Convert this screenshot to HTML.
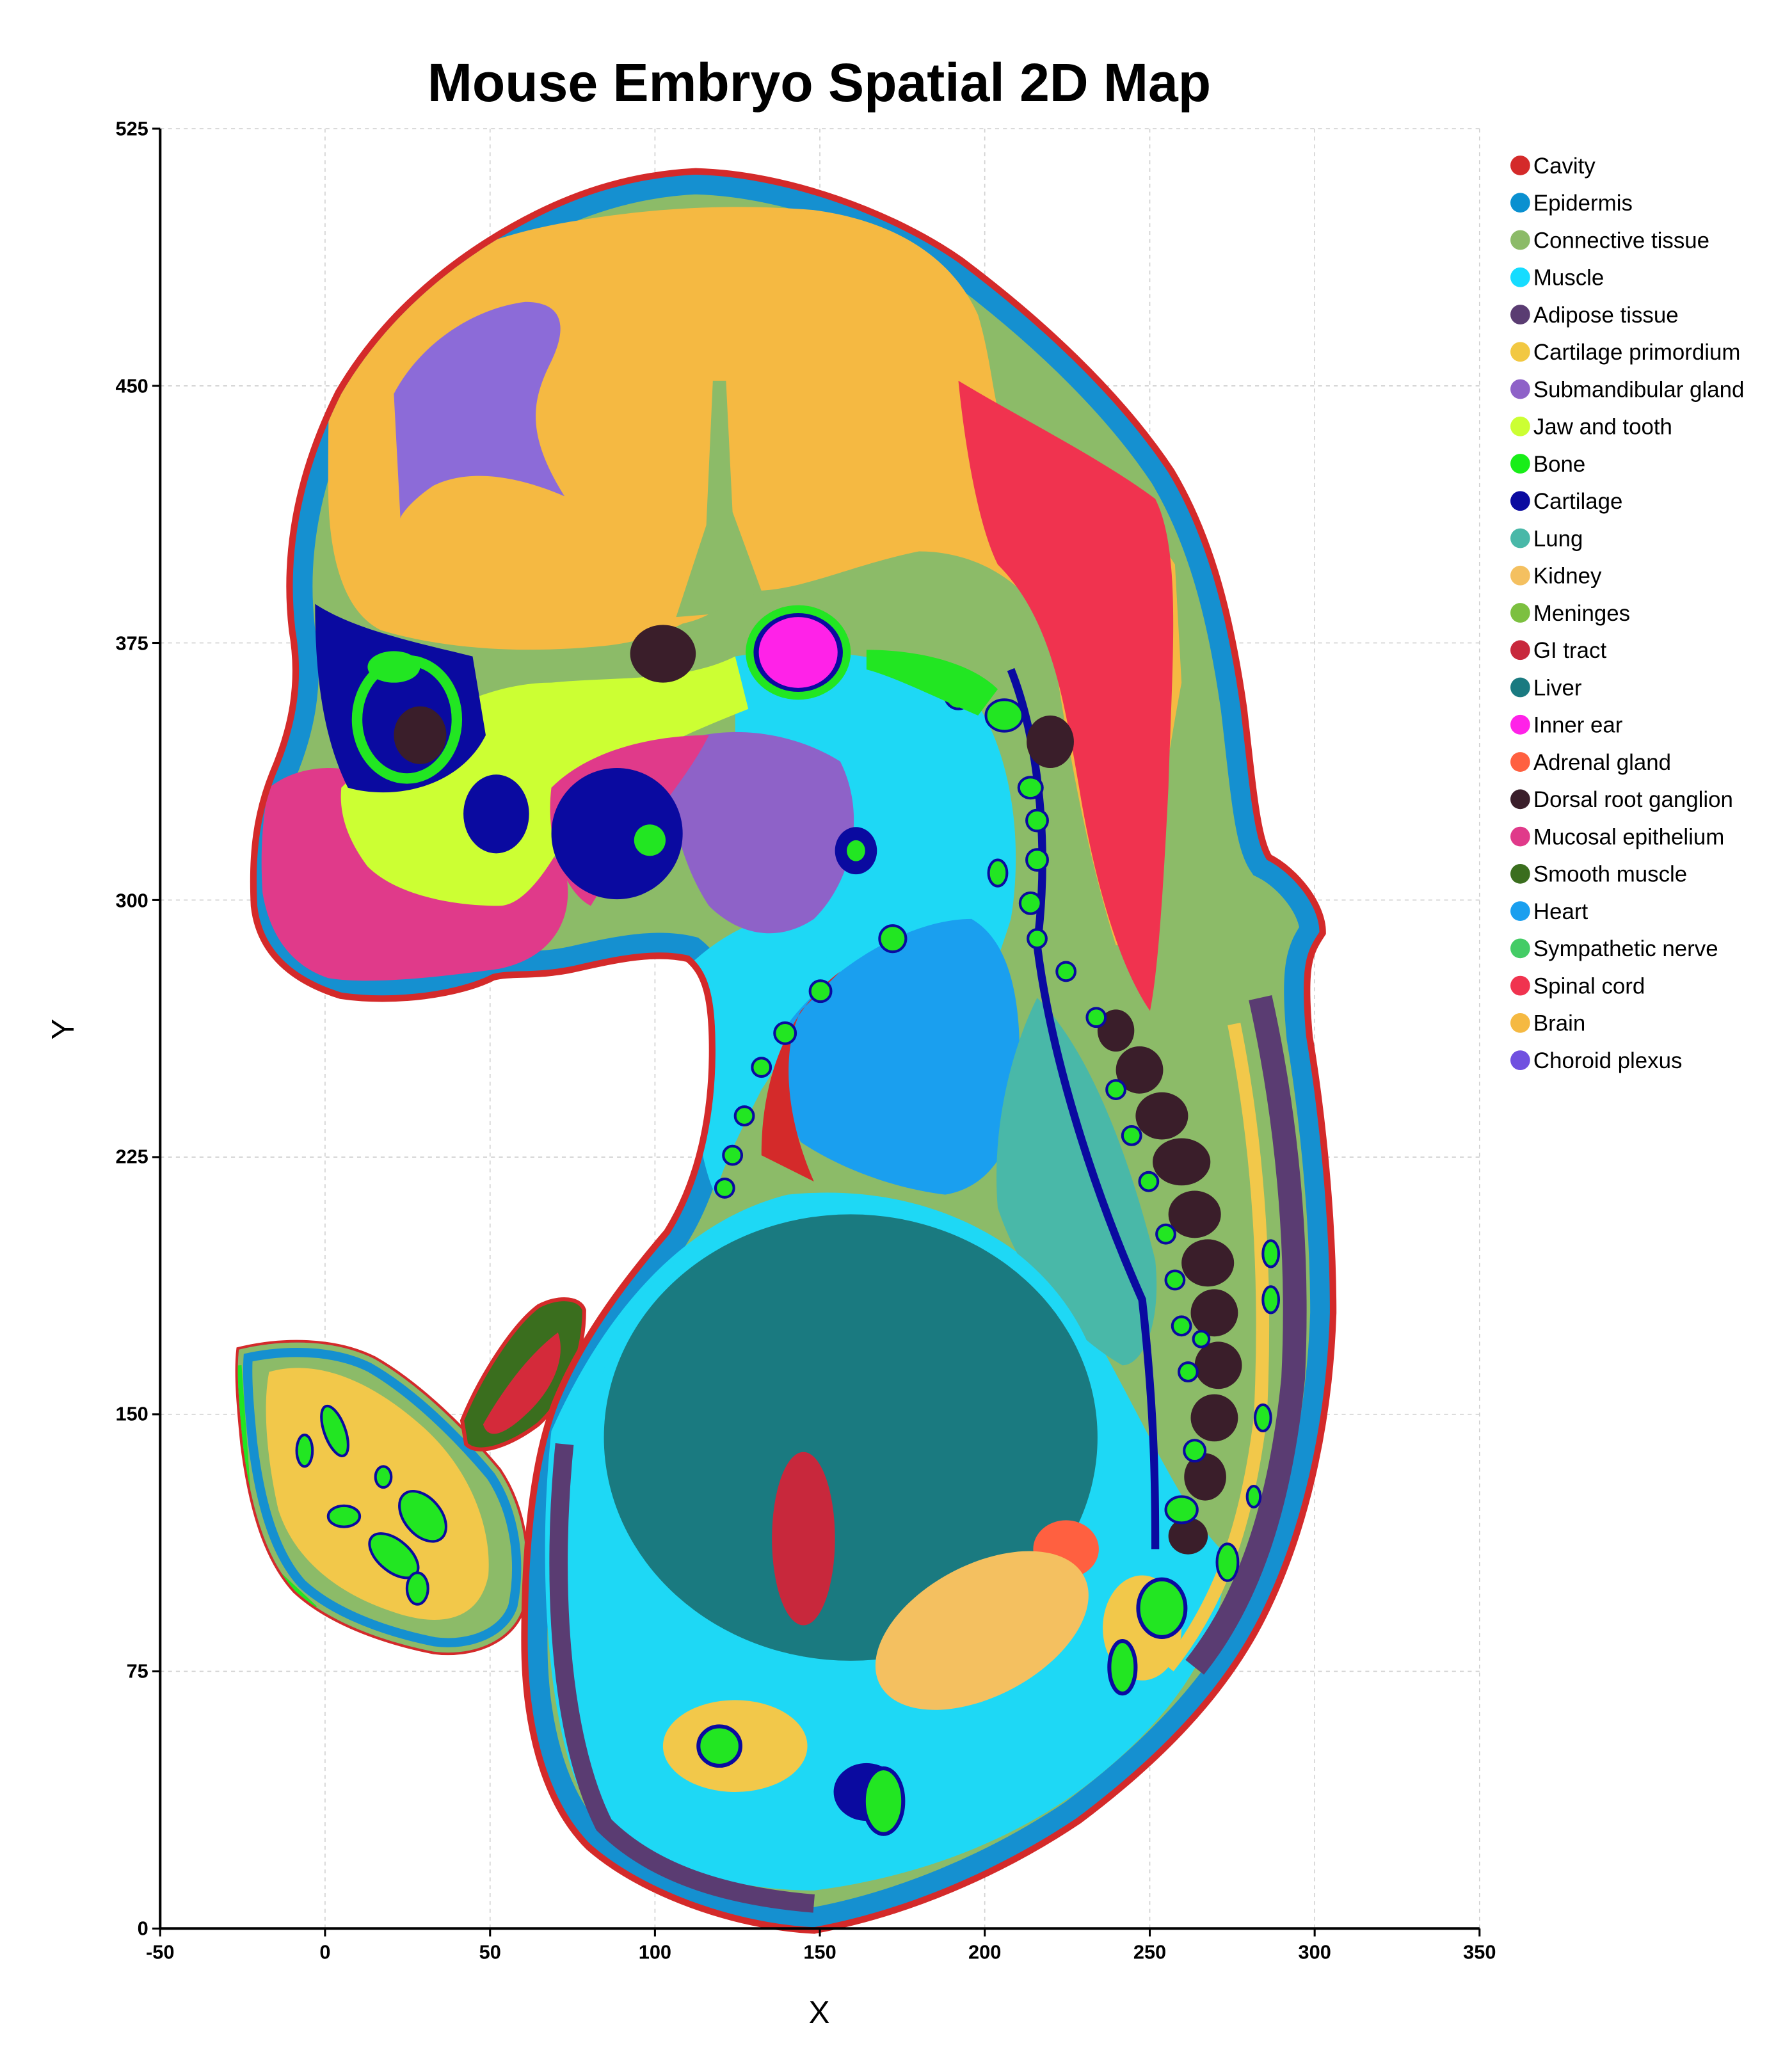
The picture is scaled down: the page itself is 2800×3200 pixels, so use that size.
<!DOCTYPE html>
<html><head><meta charset="utf-8"><style>
html,body{margin:0;padding:0;background:#fff}
svg{display:block}
text{font-family:"Liberation Sans",sans-serif}
</style></head><body>
<svg xmlns="http://www.w3.org/2000/svg" width="2800" height="3200" viewBox="0 0 1365 1560">
<rect width="1365" height="1560" fill="#fff"/>
<defs>
<path id="body" d="M530,133 C600,135 680,165 730,200 C790,245 850,300 890,360 C920,410 935,470 945,540 C952,600 955,640 965,655 C985,665 1005,690 1005,710 C995,725 990,735 995,790 C1005,850 1013,930 1013,1000 C1010,1090 990,1170 960,1230 C930,1290 880,1340 820,1385 C760,1425 690,1455 620,1468 C560,1465 490,1440 450,1405 C415,1370 402,1310 402,1250 C402,1170 410,1110 425,1070 C445,1020 480,975 510,940 C535,900 545,850 545,800 C545,760 540,740 525,728 C500,722 470,728 440,735 C410,742 390,738 375,742 C350,755 300,762 260,756 C225,745 200,725 196,690 C194,650 198,620 210,590 C225,555 232,520 225,480 C218,420 230,360 260,300 C295,240 350,195 410,165 C450,145 490,135 530,133 Z"/>
<path id="limb" d="M182,1028 C215,1020 255,1020 285,1035 C320,1055 355,1090 380,1120 C400,1150 405,1190 398,1225 C390,1250 360,1262 330,1258 C290,1250 250,1235 225,1212 C200,1185 190,1140 185,1100 C182,1070 180,1045 182,1028 Z"/>
<path id="tail" d="M352,1082 C365,1050 390,1010 410,995 C425,987 442,988 445,998 C445,1030 432,1065 410,1085 C390,1100 365,1110 355,1100 Z"/>
<clipPath id="cb"><use href="#body"/></clipPath>
<clipPath id="cl"><use href="#limb"/></clipPath>
</defs>

<g stroke="#d0d0d0" stroke-width="0.8" stroke-dasharray="3,3">
<line x1="247.6" y1="98" x2="247.6" y2="1469"/><line x1="373.3" y1="98" x2="373.3" y2="1469"/>
<line x1="498.9" y1="98" x2="498.9" y2="1469"/><line x1="624.5" y1="98" x2="624.5" y2="1469"/>
<line x1="750.1" y1="98" x2="750.1" y2="1469"/><line x1="875.8" y1="98" x2="875.8" y2="1469"/>
<line x1="1001.4" y1="98" x2="1001.4" y2="1469"/><line x1="1127" y1="98" x2="1127" y2="1469"/>
<line x1="122" y1="98" x2="1127" y2="98"/><line x1="122" y1="293.9" x2="1127" y2="293.9"/>
<line x1="122" y1="489.7" x2="1127" y2="489.7"/><line x1="122" y1="685.6" x2="1127" y2="685.6"/>
<line x1="122" y1="881.4" x2="1127" y2="881.4"/><line x1="122" y1="1077.3" x2="1127" y2="1077.3"/>
<line x1="122" y1="1273.1" x2="1127" y2="1273.1"/>
</g>

<use href="#limb" fill="#8cbb68" stroke="#d42a2a" stroke-width="4"/>
<g clip-path="url(#cl)">
<use href="#limb" fill="none" stroke="#1590d0" stroke-width="22"/>
<use href="#limb" fill="none" stroke="#8cbb68" stroke-width="8"/>
<path d="M205,1045 C240,1035 280,1050 320,1085 C355,1115 375,1160 372,1200 C365,1235 335,1240 300,1228 C260,1215 225,1190 212,1150 C203,1110 200,1070 205,1045 Z" fill="#f2c84a"/>
<g fill="#22e622" stroke="#0a0aa0" stroke-width="2">
<ellipse cx="255" cy="1090" rx="8" ry="20" transform="rotate(-20 255 1090)"/>
<ellipse cx="232" cy="1105" rx="6" ry="12"/>
<ellipse cx="322" cy="1155" rx="14" ry="22" transform="rotate(-40 322 1155)"/>
<ellipse cx="300" cy="1185" rx="22" ry="12" transform="rotate(40 300 1185)"/>
<ellipse cx="318" cy="1210" rx="8" ry="12"/>
<ellipse cx="262" cy="1155" rx="12" ry="8"/>
<ellipse cx="292" cy="1125" rx="6" ry="8"/>
</g>
<path d="M182,1040 L192,1180 L240,1225" fill="none" stroke="#22e622" stroke-width="4"/>
</g>

<use href="#tail" fill="#3a6e1e" stroke="#d42a2a" stroke-width="3"/>
<path d="M368,1085 C385,1055 405,1030 425,1015 C432,1035 420,1060 400,1078 C385,1092 372,1098 368,1085 Z" fill="#d42a3a"/>

<use href="#body" fill="#8cbb68" stroke="#d42a2a" stroke-width="10"/>
<g clip-path="url(#cb)">
<use href="#body" fill="none" stroke="#1590d0" stroke-width="30"/>
<path d="M420,1090 C460,1000 520,930 600,910 C700,900 780,940 830,1010 C870,1080 900,1150 930,1180 C940,1240 900,1300 840,1350 C780,1400 700,1430 620,1440 C540,1440 470,1410 440,1360 C415,1300 410,1180 420,1090 Z" fill="#1ed8f5"/>
<path d="M430,1100 C420,1200 425,1320 460,1390 C500,1430 560,1445 620,1450" fill="none" stroke="#5a3c72" stroke-width="14"/>
<path d="M960,760 C980,850 990,950 985,1050 C975,1150 950,1220 910,1270" fill="none" stroke="#5a3c72" stroke-width="18"/>
<path d="M940,780 C960,880 965,980 960,1080 C950,1160 930,1220 890,1270" fill="none" stroke="#f2c84a" stroke-width="10"/>
<path d="M560,500 C620,490 700,500 740,530 C770,570 780,640 770,700 C745,780 720,820 700,830 C650,800 600,790 570,800 C560,760 570,720 585,680 C600,640 590,590 560,560 Z" fill="#1ed8f5"/>
<path d="M520,740 C560,700 600,690 640,700 C620,760 600,800 580,830 C560,870 550,890 545,910 C530,880 525,810 520,740 Z" fill="#1ed8f5"/>
<path d="M505,570 C545,550 600,555 640,580 C660,620 650,670 620,700 C590,720 560,710 540,690 C520,660 510,620 505,570 Z" fill="#8e62c8"/>
<path d="M600,780 C630,740 690,700 740,700 C775,720 780,780 775,840 C770,880 750,905 720,910 C680,905 640,890 610,870 C595,840 592,810 600,780 Z" fill="#1a9fef"/>
<path d="M580,880 C580,820 600,770 640,740 L610,770 C595,800 598,850 620,900 Z" fill="#d42a2a"/>
<path d="M790,760 C830,800 860,880 880,960 C885,1010 870,1040 855,1040 C820,1020 780,980 760,920 C755,860 770,800 790,760 Z" fill="#49b8a8"/>
<ellipse cx="648" cy="1090" rx="195" ry="178" fill="#1ed8f5"/>
<ellipse cx="648" cy="1095" rx="188" ry="170" fill="#1a7a80"/>
<ellipse cx="612" cy="1172" rx="24" ry="66" fill="#c8283c"/>
<ellipse cx="812" cy="1180" rx="25" ry="22" fill="#ff6040"/>
<ellipse cx="748" cy="1242" rx="88" ry="50" transform="rotate(-28 748 1242)" fill="#f4c060"/>
<ellipse cx="560" cy="1330" rx="55" ry="35" fill="#f2c84a"/>
<ellipse cx="548" cy="1330" rx="16" ry="15" fill="#22e622" stroke="#0a0aa0" stroke-width="3"/>
<ellipse cx="660" cy="1365" rx="25" ry="22" fill="#0a0aa0"/>
<ellipse cx="673" cy="1372" rx="15" ry="25" fill="#22e622" stroke="#0a0aa0" stroke-width="3"/>
<ellipse cx="870" cy="1240" rx="30" ry="40" fill="#f2c84a"/>
<ellipse cx="885" cy="1225" rx="18" ry="22" fill="#22e622" stroke="#0a0aa0" stroke-width="3"/>
<ellipse cx="855" cy="1270" rx="10" ry="20" fill="#22e622" stroke="#0a0aa0" stroke-width="3"/>
<!-- brain (single region) -->
<path d="M255,260 C290,215 360,180 440,168 C500,158 560,155 620,160 C680,168 725,195 745,240 C760,290 755,330 780,345 C830,360 870,390 895,430 L900,520 C885,600 875,680 870,720 L850,720 C825,640 812,560 800,480 C780,440 740,420 700,420 C650,430 610,450 575,450 C555,455 545,470 520,475 C500,485 480,490 460,492 C400,498 340,495 290,480 C260,465 250,420 250,370 C250,320 250,290 255,260 Z" fill="#f5b942"/>
<path d="M543,290 L553,290 L558,390 L580,450 L540,468 L515,470 L538,400 Z" fill="#8cbb68"/>
<path d="M730,290 C780,320 840,350 880,380 C900,420 893,500 890,600 C886,680 882,740 876,770 C855,740 835,680 822,600 C810,530 800,470 760,430 C745,400 735,340 730,290 Z" fill="#f0334f"/>
<path d="M300,300 C320,262 360,235 400,230 C430,230 432,250 420,275 C405,305 400,330 430,378 C400,365 360,355 330,370 C315,380 305,392 305,395 Z" fill="#8c6bd8"/>
<path d="M770,510 C790,560 800,640 790,720 C800,800 830,900 870,990 C880,1080 880,1140 880,1180" fill="none" stroke="#0a0aa0" stroke-width="6"/>
<g fill="#3a1e2a">
<ellipse cx="800" cy="565" rx="18" ry="20"/><ellipse cx="850" cy="785" rx="14" ry="16"/>
<ellipse cx="868" cy="815" rx="18" ry="18"/><ellipse cx="885" cy="850" rx="20" ry="18"/>
<ellipse cx="900" cy="885" rx="22" ry="18"/><ellipse cx="910" cy="925" rx="20" ry="18"/>
<ellipse cx="920" cy="962" rx="20" ry="18"/><ellipse cx="925" cy="1000" rx="18" ry="18"/>
<ellipse cx="928" cy="1040" rx="18" ry="18"/><ellipse cx="925" cy="1080" rx="18" ry="18"/>
<ellipse cx="918" cy="1125" rx="16" ry="18"/><ellipse cx="905" cy="1170" rx="15" ry="14"/>
</g>
<g fill="#22e622" stroke="#0a0aa0" stroke-width="2">
<ellipse cx="730" cy="530" rx="10" ry="10"/><ellipse cx="765" cy="545" rx="14" ry="12"/>
<ellipse cx="785" cy="600" rx="9" ry="8"/><ellipse cx="790" cy="625" rx="8" ry="8"/>
<ellipse cx="790" cy="655" rx="8" ry="8"/><ellipse cx="785" cy="688" rx="8" ry="8"/>
<ellipse cx="790" cy="715" rx="7" ry="7"/><ellipse cx="812" cy="740" rx="7" ry="7"/>
<ellipse cx="835" cy="775" rx="7" ry="7"/><ellipse cx="850" cy="830" rx="7" ry="7"/>
<ellipse cx="862" cy="865" rx="7" ry="7"/><ellipse cx="875" cy="900" rx="7" ry="7"/>
<ellipse cx="888" cy="940" rx="7" ry="7"/><ellipse cx="895" cy="975" rx="7" ry="7"/>
<ellipse cx="900" cy="1010" rx="7" ry="7"/><ellipse cx="905" cy="1045" rx="7" ry="7"/>
<ellipse cx="910" cy="1105" rx="8" ry="8"/><ellipse cx="900" cy="1150" rx="12" ry="10"/>
<ellipse cx="915" cy="1020" rx="6" ry="6"/><ellipse cx="968" cy="955" rx="6" ry="10"/>
<ellipse cx="968" cy="990" rx="6" ry="10"/><ellipse cx="962" cy="1080" rx="6" ry="10"/>
<ellipse cx="955" cy="1140" rx="5" ry="8"/><ellipse cx="935" cy="1190" rx="8" ry="14"/>
<ellipse cx="760" cy="665" rx="7" ry="10"/><ellipse cx="680" cy="715" rx="10" ry="10"/>
<ellipse cx="625" cy="755" rx="8" ry="8"/><ellipse cx="598" cy="787" rx="8" ry="8"/>
<ellipse cx="580" cy="813" rx="7" ry="7"/><ellipse cx="567" cy="850" rx="7" ry="7"/>
<ellipse cx="558" cy="880" rx="7" ry="7"/><ellipse cx="552" cy="905" rx="7" ry="7"/>
</g>
<path d="M205,600 C230,580 270,580 300,600 C350,620 400,630 430,660 C440,700 420,730 380,738 C330,745 280,750 250,745 C220,735 205,710 200,680 C198,650 200,620 205,600 Z" fill="#e03a8a"/>
<path d="M260,600 C300,560 360,520 420,520 C470,515 520,520 560,500 L570,540 C520,560 470,580 440,620 C420,660 400,690 380,690 C340,690 300,680 280,660 C265,640 258,620 260,600 Z" fill="#ccff33"/>
<path d="M420,600 C450,570 500,560 540,560 C520,600 480,640 450,690 C430,680 415,640 420,600 Z" fill="#e03a8a"/>
<ellipse cx="470" cy="635" rx="50" ry="50" fill="#0a0aa0"/>
<ellipse cx="378" cy="620" rx="25" ry="30" fill="#0a0aa0"/>
<ellipse cx="495" cy="640" rx="12" ry="12" fill="#22e622"/>
<path d="M240,460 C270,480 320,490 360,500 L370,560 C350,600 300,610 265,600 C245,560 240,510 240,460 Z" fill="#0a0aa0"/>
<ellipse cx="310" cy="548" rx="38" ry="45" fill="none" stroke="#22e622" stroke-width="8"/>
<ellipse cx="320" cy="560" rx="20" ry="22" fill="#3a1e2a"/>
<ellipse cx="300" cy="508" rx="20" ry="12" fill="#22e622"/>
<ellipse cx="505" cy="498" rx="25" ry="22" fill="#3a1e2a"/>
<ellipse cx="608" cy="497" rx="40" ry="36" fill="#22e622"/>
<ellipse cx="608" cy="497" rx="34" ry="30" fill="#0a0aa0"/>
<ellipse cx="608" cy="497" rx="30" ry="27" fill="#ff22e8"/>
<ellipse cx="652" cy="648" rx="16" ry="18" fill="#0a0aa0"/>
<ellipse cx="652" cy="648" rx="7" ry="8" fill="#22e622"/>
<path d="M660,495 C700,495 740,505 760,525 L745,545 C710,530 680,515 660,510 Z" fill="#22e622"/>
</g>

<line x1="122" y1="98" x2="122" y2="1469" stroke="#000" stroke-width="2"/>
<line x1="122" y1="1469" x2="1127" y2="1469" stroke="#000" stroke-width="2"/>
<g stroke="#000" stroke-width="1.5">
<line x1="122" y1="1469" x2="122" y2="1475"/><line x1="247.6" y1="1469" x2="247.6" y2="1475"/>
<line x1="373.3" y1="1469" x2="373.3" y2="1475"/><line x1="498.9" y1="1469" x2="498.9" y2="1475"/>
<line x1="624.5" y1="1469" x2="624.5" y2="1475"/><line x1="750.1" y1="1469" x2="750.1" y2="1475"/>
<line x1="875.8" y1="1469" x2="875.8" y2="1475"/><line x1="1001.4" y1="1469" x2="1001.4" y2="1475"/>
<line x1="1127" y1="1469" x2="1127" y2="1475"/>
<line x1="116" y1="98" x2="122" y2="98"/><line x1="116" y1="293.9" x2="122" y2="293.9"/>
<line x1="116" y1="489.7" x2="122" y2="489.7"/><line x1="116" y1="685.6" x2="122" y2="685.6"/>
<line x1="116" y1="881.4" x2="122" y2="881.4"/><line x1="116" y1="1077.3" x2="122" y2="1077.3"/>
<line x1="116" y1="1273.1" x2="122" y2="1273.1"/><line x1="116" y1="1469" x2="122" y2="1469"/>
</g>
<g font-size="15" font-weight="bold" text-anchor="middle" fill="#000">
<text x="122" y="1492">-50</text><text x="247.6" y="1492">0</text><text x="373.3" y="1492">50</text>
<text x="498.9" y="1492">100</text><text x="624.5" y="1492">150</text><text x="750.1" y="1492">200</text>
<text x="875.8" y="1492">250</text><text x="1001.4" y="1492">300</text><text x="1127" y="1492">350</text>
</g>
<g font-size="15" font-weight="bold" text-anchor="end" fill="#000">
<text x="113" y="103">525</text><text x="113" y="299">450</text><text x="113" y="495">375</text>
<text x="113" y="691">300</text><text x="113" y="886">225</text><text x="113" y="1082">150</text>
<text x="113" y="1278">75</text><text x="113" y="1474">0</text>
</g>
<text x="624" y="1541" font-size="24" text-anchor="middle">X</text>
<text x="56" y="784" font-size="24" text-anchor="middle" transform="rotate(-90 56 784)">Y</text>
<text x="624" y="77" font-size="41" font-weight="bold" text-anchor="middle">Mouse Embryo Spatial 2D Map</text>

<g font-size="17" fill="#000">
<circle cx="1158" cy="126" r="7.5" fill="#d42a2a"/><text x="1168" y="132">Cavity</text>
<circle cx="1158" cy="154.4" r="7.5" fill="#0a90d0"/><text x="1168" y="160.4">Epidermis</text>
<circle cx="1158" cy="182.8" r="7.5" fill="#8cbb68"/><text x="1168" y="188.8">Connective tissue</text>
<circle cx="1158" cy="211.2" r="7.5" fill="#16dcff"/><text x="1168" y="217.2">Muscle</text>
<circle cx="1158" cy="239.6" r="7.5" fill="#5a3c72"/><text x="1168" y="245.6">Adipose tissue</text>
<circle cx="1158" cy="268" r="7.5" fill="#f2c842"/><text x="1168" y="274">Cartilage primordium</text>
<circle cx="1158" cy="296.4" r="7.5" fill="#8e62c8"/><text x="1168" y="302.4">Submandibular gland</text>
<circle cx="1158" cy="324.8" r="7.5" fill="#ccff33"/><text x="1168" y="330.8">Jaw and tooth</text>
<circle cx="1158" cy="353.2" r="7.5" fill="#18ee18"/><text x="1168" y="359.2">Bone</text>
<circle cx="1158" cy="381.6" r="7.5" fill="#0a0aa0"/><text x="1168" y="387.6">Cartilage</text>
<circle cx="1158" cy="410" r="7.5" fill="#49b8a8"/><text x="1168" y="416">Lung</text>
<circle cx="1158" cy="438.4" r="7.5" fill="#f4c060"/><text x="1168" y="444.4">Kidney</text>
<circle cx="1158" cy="466.8" r="7.5" fill="#7cc040"/><text x="1168" y="472.8">Meninges</text>
<circle cx="1158" cy="495.2" r="7.5" fill="#c8283c"/><text x="1168" y="501.2">GI tract</text>
<circle cx="1158" cy="523.6" r="7.5" fill="#1a7a80"/><text x="1168" y="529.6">Liver</text>
<circle cx="1158" cy="552" r="7.5" fill="#ff22e8"/><text x="1168" y="558">Inner ear</text>
<circle cx="1158" cy="580.4" r="7.5" fill="#ff6040"/><text x="1168" y="586.4">Adrenal gland</text>
<circle cx="1158" cy="608.8" r="7.5" fill="#3a1e2a"/><text x="1168" y="614.8">Dorsal root ganglion</text>
<circle cx="1158" cy="637.2" r="7.5" fill="#e03a8a"/><text x="1168" y="643.2">Mucosal epithelium</text>
<circle cx="1158" cy="665.6" r="7.5" fill="#3a6e1e"/><text x="1168" y="671.6">Smooth muscle</text>
<circle cx="1158" cy="694" r="7.5" fill="#1a9fef"/><text x="1168" y="700">Heart</text>
<circle cx="1158" cy="722.4" r="7.5" fill="#44cc66"/><text x="1168" y="728.4">Sympathetic nerve</text>
<circle cx="1158" cy="750.8" r="7.5" fill="#f0334f"/><text x="1168" y="756.8">Spinal cord</text>
<circle cx="1158" cy="779.2" r="7.5" fill="#f5b942"/><text x="1168" y="785.2">Brain</text>
<circle cx="1158" cy="807.6" r="7.5" fill="#7050e0"/><text x="1168" y="813.6">Choroid plexus</text>
</g>
</svg>
</body></html>
